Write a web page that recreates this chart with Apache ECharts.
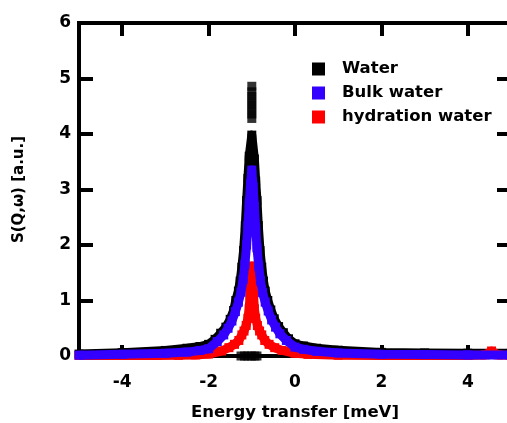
<!DOCTYPE html>
<html>
<head>
<meta charset="utf-8">
<script src="https://cdn.jsdelivr.net/npm/echarts@6/dist/echarts.min.js"></script>
<style>
  html, body { margin: 0; padding: 0; background: #fff; }
  #chart { width: 507px; height: 423px; }
</style>
</head>
<body>
<div id="chart"></div>
<script>
// tick positions
const xTicks = [-4, -2, 0, 2, 4]
const yTicks = [0, 1, 2, 3, 4, 5, 6]

// Water (black)
const waterX = [-5.0, -4.0, -3.0, -2.5, -2.2, -2.0, -1.85, -1.72, -1.6, -1.5, -1.42, -1.37, -1.31, -1.27, -1.23, -1.19, -1.15, -1.12, -1.09, -1.06, -1.0,
  -0.94, -0.91, -0.88, -0.85, -0.81, -0.77, -0.73, -0.69, -0.63, -0.56, -0.48, -0.38, -0.27, -0.15, 0.0, 0.2, 0.5, 1.0, 2.0, 3.0, 4.0, 5.0]
const waterY = [0.035, 0.06, 0.1, 0.14, 0.17, 0.21, 0.3, 0.41, 0.52, 0.66, 0.82, 1.0, 1.17, 1.35, 1.6, 1.9, 2.35, 2.8, 3.2, 3.6, 3.98,
  3.55, 3.15, 2.8, 2.35, 1.9, 1.6, 1.35, 1.17, 1.0, 0.83, 0.67, 0.53, 0.42, 0.31, 0.22, 0.18, 0.14, 0.105, 0.065, 0.055, 0.05, 0.05]
// loose Water points: top of the peak and the bit on the baseline
const waterSpotX = [-1.0, -1.0, -1.0, -1.0, -1.0, -1.0, -1.0, -1.0, -1.25, -1.17, -1.09, -1.01, -0.93, -0.88]
const waterSpotY = [4.28, 4.36, 4.44, 4.52, 4.6, 4.68, 4.76, 4.86, 0, 0, 0, 0, 0, 0]

// Bulk water (blue)
const bulkX = [-5.0, -4.0, -3.0, -2.5, -2.2, -2.0, -1.8, -1.65, -1.55, -1.46, -1.38, -1.31, -1.25, -1.2, -1.16, -1.12, -1.09, -1.06, -1.03, -1.0,
  -0.97, -0.94, -0.91, -0.88, -0.84, -0.8, -0.75, -0.69, -0.62, -0.54, -0.45, -0.35, -0.2, 0.0, 0.2, 0.5, 1.0, 2.0, 3.0, 4.0, 5.0]
const bulkY = [0.015, 0.03, 0.05, 0.07, 0.1, 0.13, 0.26, 0.38, 0.5, 0.63, 0.8, 0.97, 1.15, 1.38, 1.65, 2.0, 2.35, 2.75, 3.1, 3.35,
  3.05, 2.7, 2.3, 1.95, 1.62, 1.36, 1.14, 0.97, 0.81, 0.65, 0.52, 0.4, 0.28, 0.16, 0.12, 0.085, 0.055, 0.03, 0.025, 0.02, 0.02]

// hydration water (red)
const hydrX = [-5.0, -4.0, -3.2, -2.7, -2.3, -2.0, -1.7, -1.53, -1.4, -1.3, -1.23, -1.18, -1.13, -1.09, -1.06, -1.04, -1.02, -1.0,
  -0.98, -0.96, -0.94, -0.91, -0.87, -0.82, -0.77, -0.7, -0.6, -0.47, -0.3, 0.0, 0.3, 1.0, 2.0, 3.0, 4.0, 4.4, 4.55, 4.7, 5.0]
const hydrY = [0.01, 0.01, 0.01, 0.012, 0.02, 0.035, 0.09, 0.15, 0.21, 0.28, 0.38, 0.45, 0.55, 0.68, 0.85, 1.1, 1.4, 1.62,
  1.4, 1.1, 0.85, 0.68, 0.55, 0.45, 0.38, 0.28, 0.21, 0.15, 0.1, 0.05, 0.03, 0.015, 0.01, 0.01, 0.01, 0.02, 0.09, 0.02, 0.01]

const pairs = (xs, ys) => xs.map((x, i) => [x, ys[i]])

const font = 'DejaVu Sans'
const black = '#000'
const blue = '#3300ff'
const red = '#ff0000'

const chart = echarts.init(document.getElementById('chart'))

const axisLine = { onZero: false, lineStyle: { color: black, width: 4, cap: 'square' } }
const tickStyle = { color: black, width: 4 }
const labelStyle = { fontFamily: font, fontWeight: 'bold', fontSize: 17, color: black }

// one band per series: thick line plus square markers, z keeps the series stacked in order
const bandSeries = (name, xs, ys, color, z) => ({
  name,
  type: 'line',
  z,
  data: pairs(xs, ys),
  clip: false,
  symbol: 'rect',
  symbolSize: 9,
  showAllSymbol: true,
  lineStyle: { color, width: 9, join: 'round' },
  itemStyle: { color },
  emphasis: { disabled: true }
})

chart.setOption({
  animation: false,
  backgroundColor: '#fff',
  grid: { left: 79, top: 23, width: 432, height: 333, outerBoundsMode: 'none', containLabel: false },
  legend: {
    data: ['Water', 'Bulk water', 'hydration water'],
    orient: 'vertical',
    left: 312,
    top: 59,
    padding: 0,
    icon: 'rect',
    itemWidth: 13,
    itemHeight: 13,
    itemGap: 4,
    textStyle: { fontFamily: font, fontWeight: 'bold', fontSize: 16.5, lineHeight: 20, color: black, padding: [0, 0, 0, 12] }
  },
  xAxis: [
    {
      type: 'value',
      min: -5,
      max: 5,
      position: 'bottom',
      axisLine,
      axisTick: { inside: true, length: 11, customValues: xTicks, lineStyle: tickStyle },
      axisLabel: { ...labelStyle, margin: 18, customValues: xTicks },
      splitLine: { show: false },
      name: 'Energy transfer [meV]',
      nameLocation: 'middle',
      nameGap: 48,
      nameTextStyle: { fontFamily: font, fontWeight: 'bold', fontSize: 16.5, color: black }
    },
    {
      type: 'value',
      min: -5,
      max: 5,
      position: 'top',
      axisLine,
      axisTick: { inside: true, length: 13, customValues: xTicks, lineStyle: tickStyle },
      axisLabel: { show: false },
      splitLine: { show: false }
    }
  ],
  yAxis: [
    {
      type: 'value',
      min: 0,
      max: 6,
      position: 'left',
      axisLine,
      axisTick: { inside: true, length: 14, customValues: yTicks, lineStyle: tickStyle },
      axisLabel: { ...labelStyle, margin: 8, customValues: yTicks },
      splitLine: { show: false },
      name: 'S(Q,ω) [a.u.]',
      nameLocation: 'middle',
      nameGap: 52,
      nameTextStyle: { fontFamily: font, fontWeight: 'bold', fontSize: 15, color: black }
    },
    {
      type: 'value',
      min: 0,
      max: 6,
      position: 'right',
      axisLine,
      axisTick: { inside: true, length: 14, customValues: yTicks, lineStyle: tickStyle },
      axisLabel: { show: false },
      splitLine: { show: false }
    }
  ],
  series: [
    bandSeries('Water', waterX, waterY, black, 2),
    {
      name: 'Water',
      type: 'scatter',
      z: 2,
      data: pairs(waterSpotX, waterSpotY),
      clip: false,
      symbol: 'rect',
      symbolSize: 9,
      itemStyle: { color: black },
      emphasis: { disabled: true }
    },
    bandSeries('hydration water', hydrX, hydrY, red, 3),
    bandSeries('Bulk water', bulkX, bulkY, blue, 4)
  ]
})
</script>
</body>
</html>
